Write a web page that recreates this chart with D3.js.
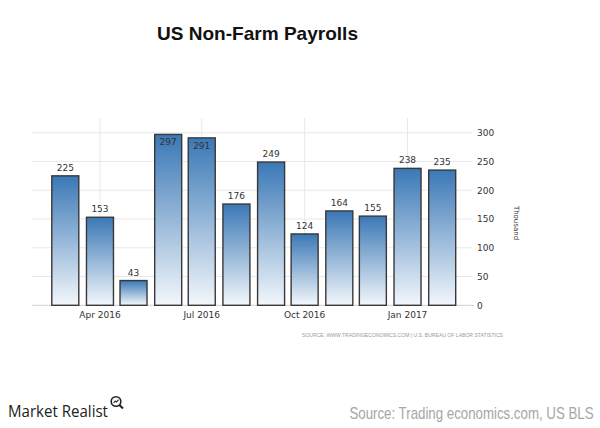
<!DOCTYPE html>
<html><head><meta charset="utf-8">
<script src="https://cdn.jsdelivr.net/npm/d3@7"></script>
<style>html,body{margin:0;padding:0;background:#fff;}svg{display:block;}</style>
</head><body>
<svg id="chart" width="600" height="428"></svg>
<script>
const months = ["2016-03","2016-04","2016-05","2016-06","2016-07","2016-08","2016-09","2016-10","2016-11","2016-12","2017-01","2017-02"];
const payrolls = [225,153,43,297,291,176,249,124,164,155,238,235];
const yTicks = [0,50,100,150,200,250,300];
const xTickFormat = "%b %Y";
const title = "US Non-Farm Payrolls";
const unitLabel = "Thousand";
const sourceSmall = "SOURCE: WWW.TRADINGECONOMICS.COM | U.S. BUREAU OF LABOR STATISTICS";
const brand = "Market Realist";
const sourceBig = "Source: Trading economics.com, US BLS";

const parse = d3.timeParse("%Y-%m");
const dates = months.map(parse);
const svg = d3.select("#chart");

const plot = {left: 32, right: 472, top: 118, bottom: 305.3};
const x = d3.scaleTime().domain(d3.extent(dates)).range([65.3, 442.2]);
const y = d3.scaleLinear().domain([0, 300]).range([plot.bottom, 132.7]);
const barW = 27;

const defs = svg.append("defs");
const grad = defs.append("linearGradient").attr("id","barGrad").attr("x1",0).attr("y1",0).attr("x2",0).attr("y2",1);
grad.append("stop").attr("offset","0%").attr("stop-color","#3a78b6");
grad.append("stop").attr("offset","100%").attr("stop-color","#f3f7fb");

// Title
svg.append("text").attr("x",157).attr("y",39.5).attr("font-family","Liberation Sans, Arial, sans-serif")
  .attr("font-weight","bold").attr("font-size",19).attr("fill","#111")
  .attr("textLength",201).attr("lengthAdjust","spacingAndGlyphs").text(title);

// Horizontal gridlines
svg.append("g").selectAll("line").data(yTicks.filter(t=>t>0)).join("line")
  .attr("x1",plot.left).attr("x2",plot.right).attr("y1",d=>y(d)).attr("y2",d=>y(d))
  .attr("stroke","#e8e8e8").attr("stroke-width",1);

// Vertical gridlines at x ticks
const xt = x.ticks(d3.timeMonth.every(3));
svg.append("g").selectAll("line").data(xt).join("line")
  .attr("x1",d=>x(d)).attr("x2",d=>x(d)).attr("y1",plot.top).attr("y2",plot.bottom)
  .attr("stroke","#e8e8e8").attr("stroke-width",1);

// Baseline
svg.append("line").attr("x1",plot.left).attr("x2",plot.right+2).attr("y1",plot.bottom).attr("y2",plot.bottom)
  .attr("stroke","#d0d0d0").attr("stroke-width",1);

// Bars
svg.append("g").selectAll("rect").data(payrolls).join("rect")
  .attr("x",(d,i)=>x(dates[i])-barW/2).attr("width",barW)
  .attr("y",d=>y(d)).attr("height",d=>plot.bottom-y(d))
  .attr("fill","url(#barGrad)").attr("stroke","#383838").attr("stroke-width",1.4);

// Value labels
svg.append("g").selectAll("text").data(payrolls).join("text")
  .attr("x",(d,i)=>x(dates[i]))
  .attr("y",d=>{ const above = y(d)-8.5; return (above < 133 ? y(d)+7.5 : above) + 3.5; })
  .attr("text-anchor","middle").attr("font-family","DejaVu Sans, sans-serif")
  .attr("font-size",9).attr("fill","#333").text(d=>d);

// X axis labels
const fmt = d3.timeFormat(xTickFormat);
svg.append("g").selectAll("text").data(xt).join("text")
  .attr("x",d=>x(d)).attr("y",317.5).attr("text-anchor","middle")
  .attr("font-family","DejaVu Sans, sans-serif").attr("font-size",9).attr("fill","#333").text(d=>fmt(d));

// Y axis labels (right)
svg.append("g").selectAll("text").data(yTicks).join("text")
  .attr("x",477).attr("y",d=>y(d)+3.3).attr("font-family","DejaVu Sans, sans-serif")
  .attr("font-size",9).attr("fill","#333").text(d=>d);

// Unit label
svg.append("text").attr("transform","translate(514,223) rotate(90)").attr("text-anchor","middle")
  .attr("font-family","DejaVu Sans, sans-serif").attr("font-size",7).attr("fill","#333").text(unitLabel);

// small source
svg.append("text").attr("x",302).attr("y",336.5).attr("font-family","Liberation Sans, Arial, sans-serif")
  .attr("font-size",6).attr("fill","#999").attr("textLength",201).attr("lengthAdjust","spacingAndGlyphs").text(sourceSmall);

// Brand
svg.append("text").attr("x",8).attr("y",417.3).attr("font-family","Open Sans, sans-serif")
  .attr("font-size",17).attr("fill","#222").attr("textLength",100).attr("lengthAdjust","spacingAndGlyphs").text(brand);
// magnifier icon
const ic = svg.append("g").attr("transform","translate(116,401.5)");
ic.append("circle").attr("r",4.8).attr("fill","none").attr("stroke","#222").attr("stroke-width",1.6);
ic.append("line").attr("x1",3.2).attr("y1",3.2).attr("x2",7).attr("y2",7).attr("stroke","#222").attr("stroke-width",2);
ic.append("path").attr("d","M-2.5,1.5 L-0.8,-0.5 L0.6,0.6 L2.5,-1.8").attr("fill","none").attr("stroke","#222").attr("stroke-width",1.1);

// Big source (horizontally condensed like the reference)
svg.append("text").attr("transform","translate(593.5,419) scale(0.83,1)").attr("text-anchor","end")
  .attr("font-family","Liberation Sans, Arial, sans-serif")
  .attr("font-size",16).attr("fill","#a6a6a6").text(sourceBig);
</script>
</body></html>
